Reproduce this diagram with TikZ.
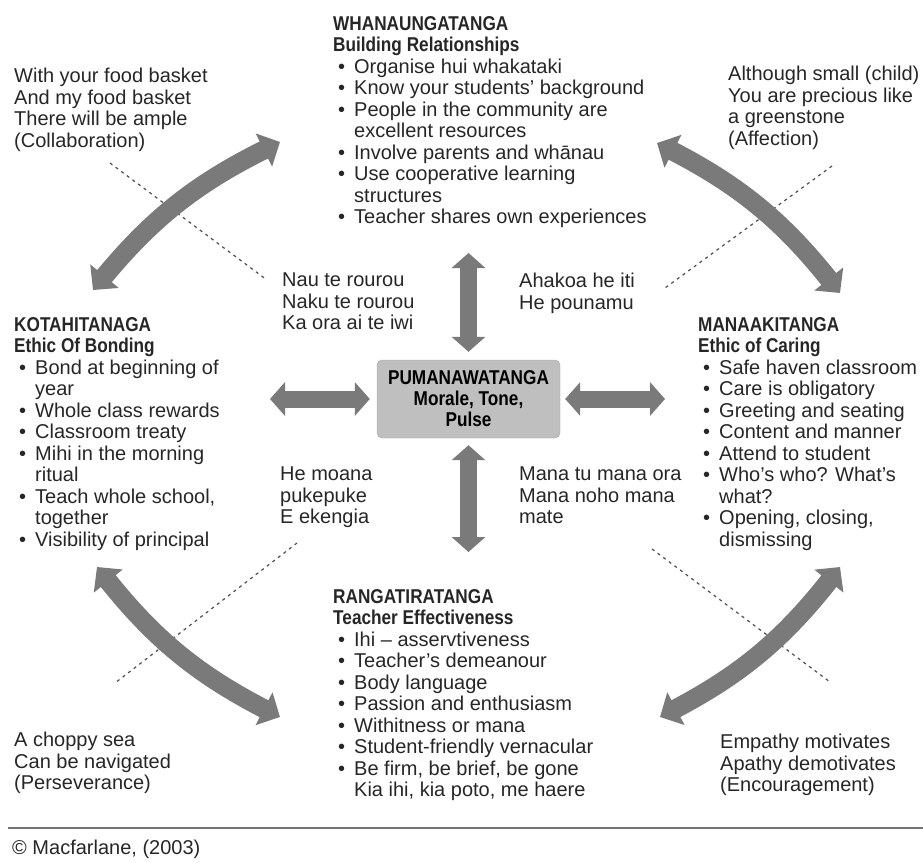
\documentclass[tikz,border=0pt]{standalone}
\usepackage{fontspec}
\setmainfont{Liberation Sans}
\newfontfamily\headfont{Liberation Sans}[FakeStretch=0.86]
\usetikzlibrary{arrows.meta}
\newcommand{\hd}[1]{{\headfont\bfseries #1}}
\newcommand{\bi}[1]{\makebox[21pt][l]{\hspace{5pt}\textbullet}#1}
\newcommand{\bc}[1]{\hspace*{21pt}#1}
\begin{document}
\begin{tikzpicture}[x=1pt, y=-1pt,
  txt/.style={anchor=north west, inner sep=0, align=left, text=black!85, font=\fontsize{20}{21.5}\selectfont},
  pulsebox/.style={rectangle, rounded corners=5pt, fill=black!25, draw=black!35, minimum width=183pt, minimum height=78pt, inner sep=0, align=center, font=\fontsize{20}{21}\selectfont\headfont\bfseries},
  bigarrow/.style={line width=17pt, black!52, {Triangle[length=15pt,width=33pt]}-{Triangle[length=15pt,width=33pt]}},
  bowarrow/.style={line width=19pt, black!52, {Triangle[length=18pt,width=36pt]}-{Triangle[length=18pt,width=36pt]}},
  dashline/.style={line width=1.2pt, black!70, dash pattern=on 3pt off 4pt}]
\useasboundingbox (0,0) rectangle (923,862);

% four ethics and the centre
\node[txt] (whana) at (333,16){\hd{WHANAUNGATANGA}\\ \hd{Building Relationships}\\
  \bi{Organise hui whakataki}\\ \bi{Know your students' background}\\
  \bi{People in the community are}\\ \bc{excellent resources}\\
  \bi{Involve parents and whānau}\\ \bi{Use cooperative learning}\\
  \bc{structures}\\ \bi{Teacher shares own experiences}};
\node[txt] (kota) at (14,317){\hd{KOTAHITANAGA}\\ \hd{Ethic Of Bonding}\\
  \bi{Bond at beginning of}\\ \bc{year}\\ \bi{Whole class rewards}\\
  \bi{Classroom treaty}\\ \bi{Mihi in the morning}\\ \bc{ritual}\\
  \bi{Teach whole school,}\\ \bc{together}\\ \bi{Visibility of principal}};
\node[txt] (manaaki) at (698,317){\hd{MANAAKITANGA}\\ \hd{Ethic of Caring}\\
  \bi{Safe haven classroom}\\ \bi{Care is obligatory}\\ \bi{Greeting and seating}\\
  \bi{Content and manner}\\ \bi{Attend to student}\\ \bi{Who's who? What's}\\
  \bc{what?}\\ \bi{Opening, closing,}\\ \bc{dismissing}};
\node[txt] (ranga) at (333,589){\hd{RANGATIRATANGA}\\ \hd{Teacher Effectiveness}\\
  \bi{Ihi -- asservtiveness}\\ \bi{Teacher's demeanour}\\ \bi{Body language}\\
  \bi{Passion and enthusiasm}\\ \bi{Withitness or mana}\\
  \bi{Student-friendly vernacular}\\ \bi{Be firm, be brief, be gone}\\
  \bc{Kia ihi, kia poto, me haere}};
\node[pulsebox] (pulse) at (468.5,399){PUMANAWATANGA\\ Morale, Tone,\\ Pulse};

% proverbs
\node[txt] (basket) at (14,68){With your food basket\\ And my food basket\\ There will be ample\\ (Collaboration)};
\node[txt] (small) at (728,66){Although small (child)\\ You are precious like\\ a greenstone\\ (Affection)};
\node[txt] (nau) at (282,273){Nau te rourou\\ Naku te rourou\\ Ka ora ai te iwi};
\node[txt] (ahakoa) at (519,273){Ahakoa he iti\\ He pounamu};
\node[txt] (moana) at (280,467){He moana\\ pukepuke\\ E ekengia};
\node[txt] (manatu) at (519,467){Mana tu mana ora\\ Mana noho mana\\ mate};
\node[txt] (choppy) at (14,732){A choppy sea\\ Can be navigated\\ (Perseverance)};
\node[txt] (empathy) at (720,734){Empathy motivates\\ Apathy demotivates\\ (Encouragement)};

% dashed pointers
\coordinate (d1a) at (110,163); \coordinate (d1b) at (267,280);
\coordinate (d2a) at (832,166); \coordinate (d2b) at (665,288);
\coordinate (d3a) at (297,543); \coordinate (d3b) at (115,683);
\coordinate (d4a) at (652,549); \coordinate (d4b) at (830,682);
\draw[dashline] (d1a) -- (d1b);
\draw[dashline] (d2a) -- (d2b);
\draw[dashline] (d3a) -- (d3b);
\draw[dashline] (d4a) -- (d4b);

% curved arrows
\coordinate (tl1) at (93,290); \coordinate (tl2) at (280,142);
\coordinate (tr1) at (657,143); \coordinate (tr2) at (840,293);
\coordinate (bl1) at (97,567); \coordinate (bl2) at (280,717);
\coordinate (br1) at (660,717); \coordinate (br2) at (840,567);
\draw[bowarrow] (tl1) to[bend left=12] (tl2);
\draw[bowarrow] (tr1) to[bend left=12] (tr2);
\draw[bowarrow] (bl1) to[bend right=12] (bl2);
\draw[bowarrow] (br1) to[bend right=12] (br2);

% straight arrows
\coordinate (up) at (468.5,253);
\coordinate (down) at (468.5,552);
\coordinate (left) at (270,399);
\coordinate (right) at (665,399);
\draw[bigarrow, shorten >=8pt] (up) -- (pulse.north);
\draw[bigarrow, shorten >=7pt] (down) -- (pulse.south);
\draw[bigarrow, shorten >=7pt] (left) -- (pulse.west);
\draw[bigarrow, shorten >=5pt] (right) -- (pulse.east);

% source
\coordinate (rulea) at (8,828); \coordinate (ruleb) at (923,828);
\draw[black!55, line width=1.5pt] (rulea) -- (ruleb);
\node[txt] (source) at (12,840){© Macfarlane, (2003)};
\end{tikzpicture}
\end{document}
